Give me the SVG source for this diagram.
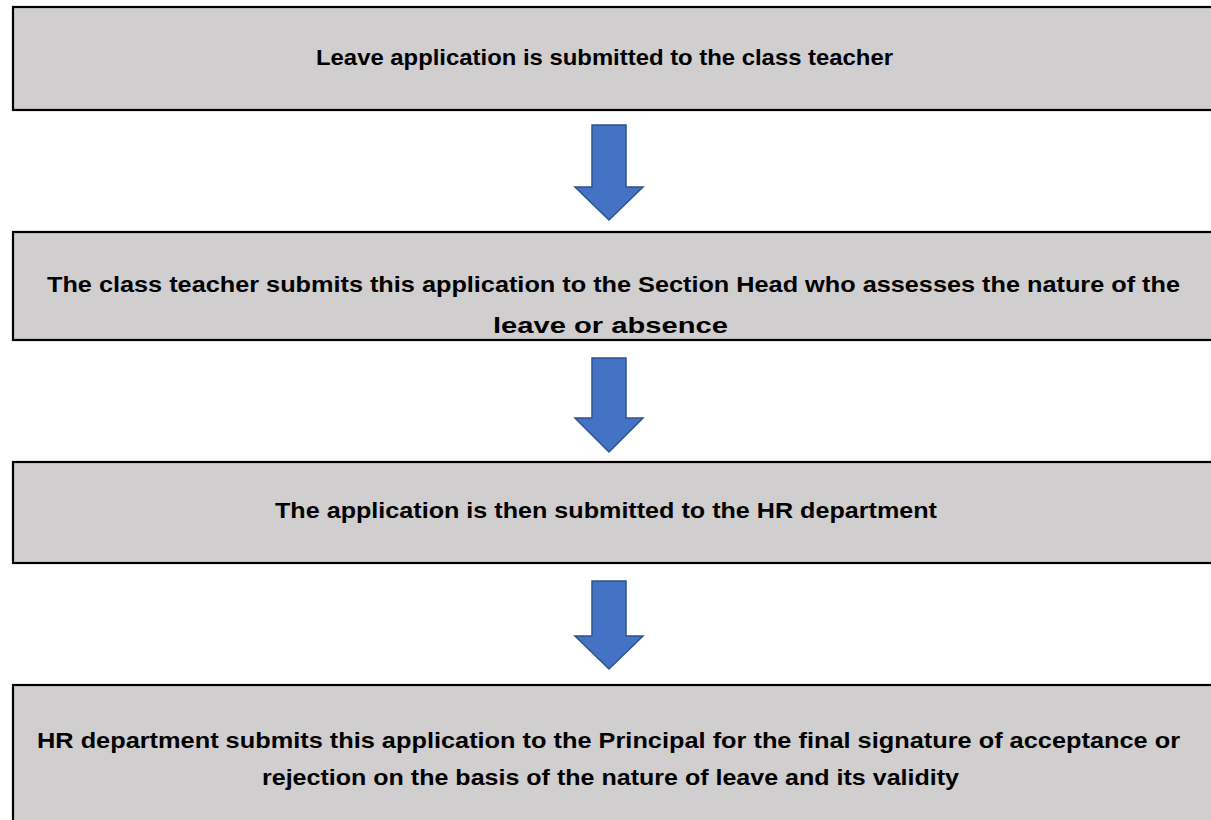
<svg xmlns="http://www.w3.org/2000/svg" width="1211" height="820" viewBox="0 0 1211 820">
<style>
.box{fill:#d0cece;stroke:#000;stroke-width:2.2}
.t{font-family:"Liberation Sans",Arial,sans-serif;font-weight:bold;font-size:22px;fill:#000;text-anchor:middle}
.arr{fill:#4472c4;stroke:#2f528f;stroke-width:1.5}
</style>
<rect width="1211" height="820" fill="#fff"/>
<g id="node1">
<rect class="box" x="13" y="7" width="1210" height="103"/>
<text class="t" x="604.5" y="65" textLength="577" lengthAdjust="spacingAndGlyphs">Leave application is submitted to the class teacher</text>
</g>
<g id="node2">
<rect class="box" x="13" y="232" width="1210" height="108"/>
<text class="t" x="613.5" y="292" textLength="1133" lengthAdjust="spacingAndGlyphs">The class teacher submits this application to the Section Head who assesses the nature of the</text>
<text class="t" x="610.5" y="333" textLength="235" lengthAdjust="spacingAndGlyphs">leave or absence</text>
</g>
<g id="node3">
<rect class="box" x="13" y="462" width="1210" height="101"/>
<text class="t" x="606" y="518" textLength="662" lengthAdjust="spacingAndGlyphs">The application is then submitted to the HR department</text>
</g>
<g id="node4">
<rect class="box" x="13" y="685" width="1210" height="150"/>
<text class="t" x="608.5" y="748" textLength="1143" lengthAdjust="spacingAndGlyphs">HR department submits this application to the Principal for the final signature of acceptance or</text>
<text class="t" x="610.5" y="785" textLength="697" lengthAdjust="spacingAndGlyphs">rejection on the basis of the nature of leave and its validity</text>
</g>
<g id="connectors">
<path class="arr" d="M592,125 H626 V187 H643 L609,220 L575,187 H592 Z"/>
<path class="arr" d="M592,358 H626 V418 H643 L609,452 L575,418 H592 Z"/>
<path class="arr" d="M592,581 H626 V636 H643 L609,669 L575,636 H592 Z"/>
</g>
</svg>
